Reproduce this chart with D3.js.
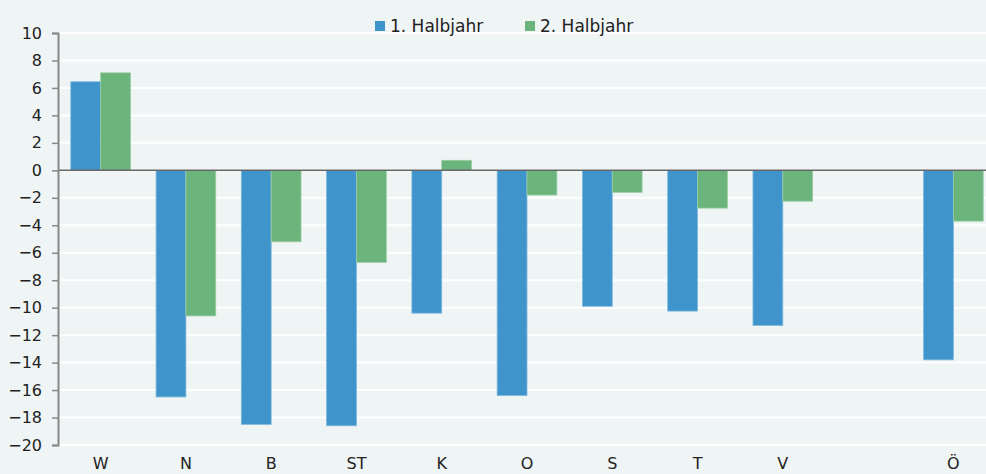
<!DOCTYPE html>
<html>
<head>
<meta charset="utf-8">
<script src="https://d3js.org/d3.v7.min.js"></script>
<style>
  body { margin: 0; background: #eff4f4; }
  svg { display: block; }
  text { font-family: "DejaVu Sans", sans-serif; fill: #222; }
</style>
</head>
<body>
<svg id="chart" width="986" height="474"></svg>
<script>
// Kategorien (leerer Platz zwischen V und Ö)
const kategorien = ["W", "N", "B", "ST", "K", "O", "S", "T", "V", "", "Ö"];
const halbjahr1 = [6.45, -16.5, -18.5, -18.6, -10.4, -16.4, -9.9, -10.25, -11.3, null, -13.8];
const halbjahr2 = [7.1, -10.6, -5.2, -6.7, 0.73, -1.8, -1.6, -2.75, -2.25, null, -3.7];
const serien = ["1. Halbjahr", "2. Halbjahr"];
const yTicks = d3.range(-20, 11, 2);

const farben = ["#3f95cb", "#6bb47c"];
const rand = ["#7fb8dd", "#9acda5"];

const svg = d3.select("#chart");
const mLeft = 58, mTop = 33, mBottom = 445, plotRight = 996;

const x = d3.scaleBand().domain(d3.range(kategorien.length)).range([mLeft, plotRight]).paddingInner(0.3).paddingOuter(0.15);
const y = d3.scaleLinear().domain([-20, 10]).range([mBottom, mTop]);

// Gitterlinien
svg.append("g").selectAll("line").data(yTicks).enter().append("line")
  .attr("x1", mLeft).attr("x2", 986)
  .attr("y1", d => y(d)).attr("y2", d => y(d))
  .attr("stroke", "#fff").attr("stroke-width", 2);

// Balken
const daten = [halbjahr1, halbjahr2];
const bw = x.bandwidth() / 2;
daten.forEach((werte, s) => {
  svg.append("g").selectAll("rect").data(werte.map((v, i) => ({v, i})).filter(d => d.v !== null))
    .enter().append("rect")
    .attr("x", d => x(d.i) + s * bw)
    .attr("width", bw)
    .attr("y", d => y(Math.max(0, d.v)))
    .attr("height", d => Math.abs(y(d.v) - y(0)))
    .attr("fill", farben[s])
    .attr("stroke", rand[s]).attr("stroke-width", 0.8);
});

// Nulllinie
svg.append("line").attr("x1", mLeft).attr("x2", 986)
  .attr("y1", y(0)).attr("y2", y(0))
  .attr("stroke", "#666").attr("stroke-width", 1.5);

// y-Achse
const yAxis = d3.axisLeft(y).tickValues(yTicks).tickSize(6).tickPadding(10)
  .tickFormat(d => d < 0 ? "\u2212" + Math.abs(d) : d);
const ga = svg.append("g").attr("transform", `translate(${mLeft},0)`).call(yAxis);
ga.select(".domain").attr("stroke", "#888").attr("stroke-width", 2);
ga.selectAll(".tick line").attr("stroke", "#888").attr("stroke-width", 1.5);
ga.selectAll(".tick text").style("font-size", "16px").attr("fill", "#222");

// x-Beschriftung
svg.append("g").selectAll("text").data(kategorien).enter().append("text")
  .attr("x", (d, i) => x(i) + x.bandwidth() / 2)
  .attr("y", 469)
  .attr("text-anchor", "middle")
  .style("font-size", "16px")
  .text(d => d);

// Legende
const leg = svg.append("g");
const legX = [375, 525];
serien.forEach((s, i) => {
  leg.append("rect").attr("x", legX[i]).attr("y", 21).attr("width", 10).attr("height", 10).attr("fill", farben[i]);
  leg.append("text").attr("x", legX[i] + 15).attr("y", 32).style("font-size", "17px").text(s);
});
</script>
</body>
</html>
